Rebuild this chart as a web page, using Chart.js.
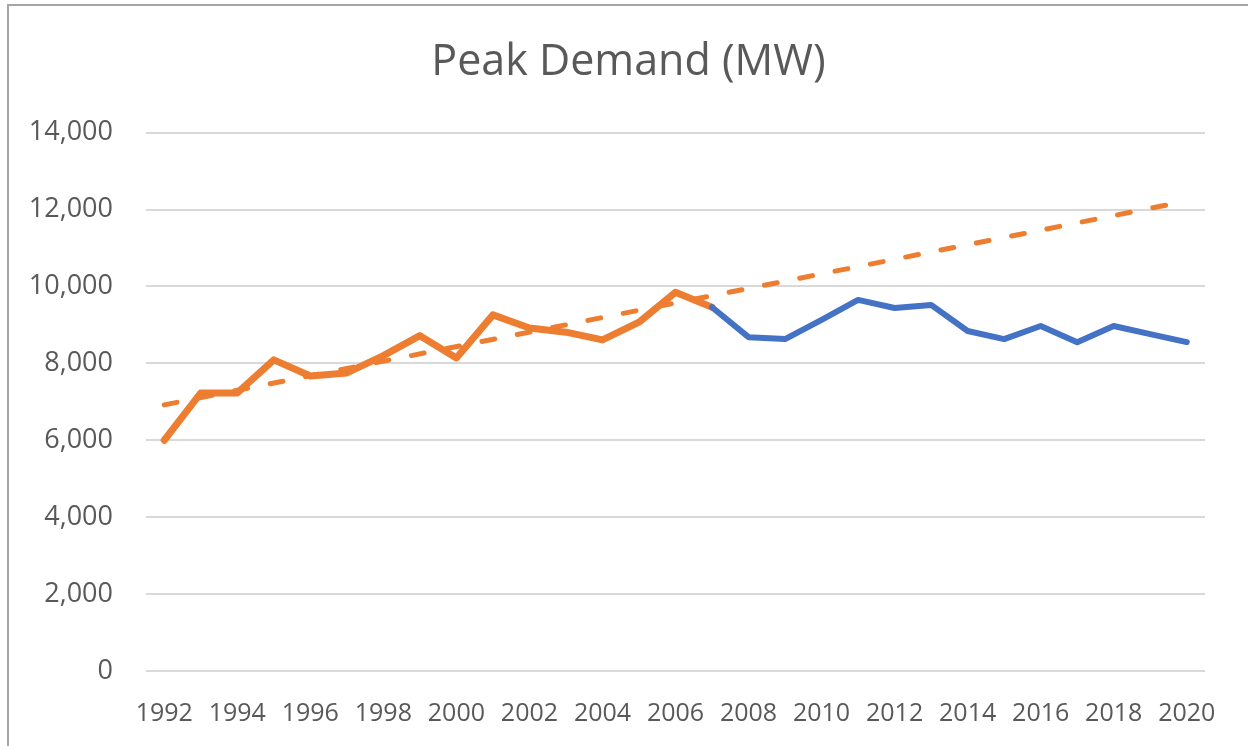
<!DOCTYPE html>
<html>
<head>
<meta charset="utf-8">
<script src="https://cdn.jsdelivr.net/npm/chart.js@4"></script>
<style>
  body { margin: 0; background: #fff; }
  #box {
    position: absolute; left: 7px; top: 4px;
    width: 1239px; height: 740px;
    border-top: 2px solid #A6A6A6; border-left: 2px solid #A6A6A6;
  }
</style>
</head>
<body>
<div id="box"><canvas id="myChart" width="1239" height="740"></canvas></div>
<script>
// Años (categorías del eje X)
const years = ['1992', '1993', '1994', '1995', '1996', '1997', '1998', '1999', '2000',
  '2001', '2002', '2003', '2004', '2005', '2006', '2007', '2008', '2009', '2010',
  '2011', '2012', '2013', '2014', '2015', '2016', '2017', '2018', '2019', '2020'];

// Demanda pico 1992-2007 (naranja)
const demandEarly = [6000, 7230, 7230, 8090, 7670, 7750, 8200, 8720, 8140, 9260,
  8920, 8810, 8610, 9070, 9850, 9460];

// Demanda pico 2007-2020 (azul)
const demandLate = [9460, 8680, 8630, 9130, 9650, 9440, 9520, 8840, 8630, 8970,
  8550, 8970, 8760, 8550];

// Línea de tendencia: extremos
const trendStart = 6920;
const trendEnd = 12220;

// Marcas del eje Y
const yTicks = [0, 2000, 4000, 6000, 8000, 10000, 12000, 14000];

const orangeData = years.map((y, i) => i < demandEarly.length ? demandEarly[i] : null);
const blueOffset = years.length - demandLate.length;
const blueData = years.map((y, i) => i >= blueOffset ? demandLate[i - blueOffset] : null);
const trendData = years.map((y, i) => i === 0 ? trendStart : (i === years.length - 1 ? trendEnd : null));

const ctx = document.getElementById('myChart').getContext('2d');
window.myChart = new Chart(ctx, {
  type: 'line',
  data: {
    labels: years,
    datasets: [
      {
        label: 'Peak Demand 1992-2007',
        data: orangeData,
        borderColor: '#ED7D31',
        borderWidth: 7,
        borderJoinStyle: 'round',
        borderCapStyle: 'round',
        pointRadius: 0,
        tension: 0,
        order: 3
      },
      {
        label: 'Peak Demand 2007-2020',
        data: blueData,
        borderColor: '#4472C4',
        borderWidth: 6,
        borderJoinStyle: 'round',
        borderCapStyle: 'round',
        pointRadius: 0,
        tension: 0,
        order: 2
      },
      {
        label: 'Trend',
        data: trendData,
        borderColor: '#ED7D31',
        borderWidth: 5,
        borderDash: [13, 23],
        borderCapStyle: 'round',
        spanGaps: true,
        pointRadius: 0,
        tension: 0,
        order: 1
      }
    ]
  },
  options: {
    responsive: false,
    animation: false,
    layout: { padding: 0 },
    plugins: {
      legend: { display: false },
      tooltip: { enabled: false },
      title: {
        display: true,
        text: 'Peak Demand (MW)',
        color: '#595959',
        font: { family: 'Open Sans', size: 43, weight: 'normal' },
        padding: { top: 31, bottom: 44 }
      }
    },
    scales: {
      x: {
        offset: true,
        grid: { display: false },
        border: { display: false },
        ticks: {
          autoSkip: false,
          maxRotation: 0,
          padding: 20,
          color: '#595959',
          font: { family: 'Open Sans', size: 25 },
          callback: function(value, index) {
            return index % 2 === 0 ? years[index] : '';
          }
        },
        afterFit: function(scale) { scale.height = 75; }
      },
      y: {
        min: 0,
        max: 14000,
        grid: { color: '#D9D9D9', lineWidth: 2, drawTicks: false },
        border: { display: false },
        afterBuildTicks: function(scale) {
          scale.ticks = yTicks.map(v => ({ value: v }));
        },
        ticks: {
          padding: 33,
          color: '#595959',
          font: { family: 'Open Sans', size: 27 },
          callback: function(value) { return value.toLocaleString('en-US'); }
        },
        afterFit: function(scale) { scale.width = 137; }
      },
      // eje vacío a la derecha, solo para reservar el margen
      yRight: {
        position: 'right',
        grid: { display: false },
        border: { display: false },
        ticks: { display: false },
        afterFit: function(scale) { scale.width = 43; }
      }
    }
  }
});
</script>
</body>
</html>
